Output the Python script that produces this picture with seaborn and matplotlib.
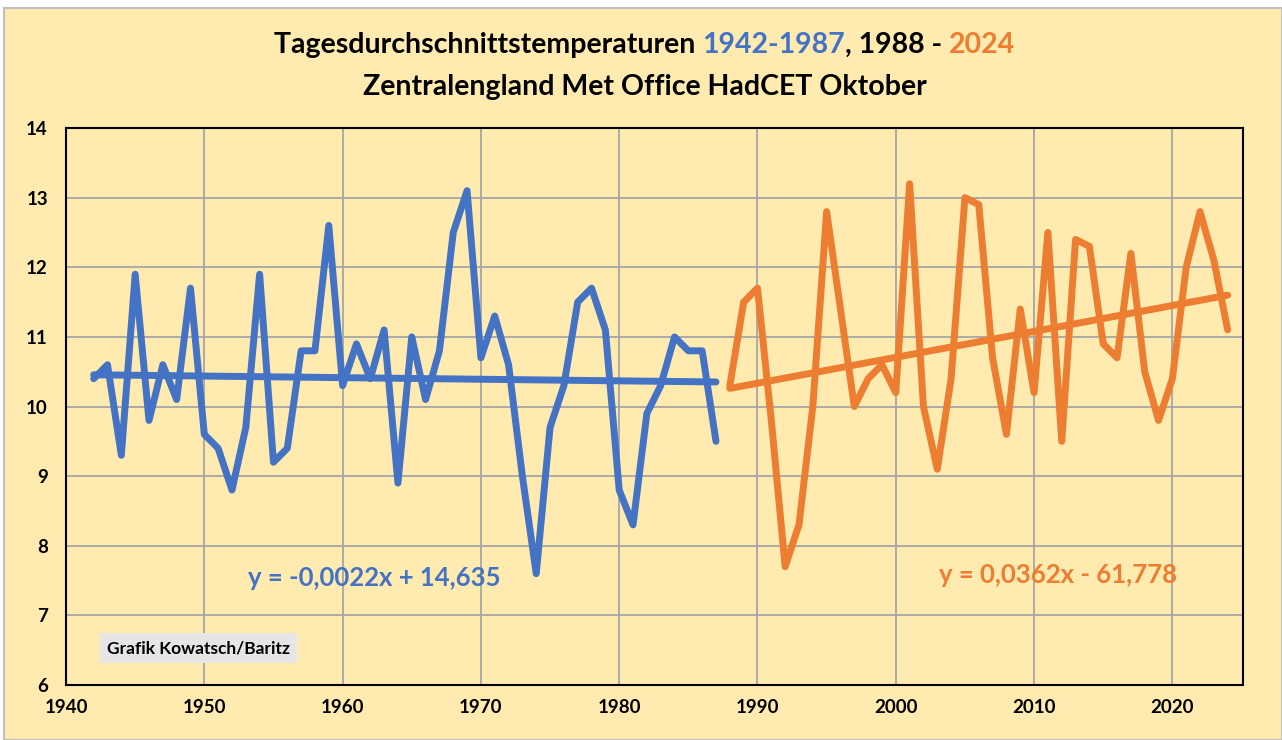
import pandas as pd
import seaborn as sns
import matplotlib.pyplot as plt
from matplotlib.offsetbox import TextArea, HPacker, AnnotationBbox
from matplotlib.patches import Rectangle

# --------------------------------------------------
# Data (HadCET October)
# --------------------------------------------------

blue_years = list(range(1942, 1988))
blue_temps = [
    10.4, 10.6, 9.3, 11.9, 9.8, 10.6, 10.1, 11.7, 9.6, 9.4,
    8.8, 9.7, 11.9, 9.2, 9.4, 10.8, 10.8, 12.6, 10.3, 10.9,
    10.4, 11.1, 8.9, 11.0, 10.1, 10.8, 12.5, 13.1, 10.7, 11.3,
    10.6, 9.0, 7.6, 9.7, 10.3, 11.5, 11.7, 11.1, 8.8, 8.3,
    9.9, 10.3, 11.0, 10.8, 10.8, 9.5,
]

orange_years = list(range(1988, 2025))
orange_temps = [
    10.3, 11.5, 11.7, 9.8, 7.7, 8.3, 10.0, 12.8, 11.4, 10.0,
    10.4, 10.6, 10.2, 13.2, 10.0, 9.1, 10.4, 13.0, 12.9, 10.7,
    9.6, 11.4, 10.2, 12.5, 9.5, 12.4, 12.3, 10.9, 10.7, 12.2,
    10.5, 9.8, 10.4, 12.0, 12.8, 12.1, 11.1,
]

x_ticks = list(range(1940, 2021, 10))
y_ticks = list(range(6, 15))

blue_eq = "y = -0,0022x + 14,635"
orange_eq = "y = 0,0362x - 61,778"

BG = "#FFEBB0"
BLUE = "#4472C4"
ORANGE = "#ED7D31"
GRID = "#A6A6A6"

# --------------------------------------------------
# Style
# --------------------------------------------------

sns.set_theme(style="whitegrid")
plt.rcParams["font.family"] = ["Lato", "DejaVu Sans"]

df_blue = pd.DataFrame({"Jahr": blue_years, "Temp": blue_temps})
df_orange = pd.DataFrame({"Jahr": orange_years, "Temp": orange_temps})

fig = plt.figure(figsize=(12.82, 7.40), dpi=100)
fig.patch.set_facecolor("white")
fig.patches.append(
    Rectangle((0.003, 0.0), 0.997, 0.989, transform=fig.transFigure,
              facecolor=BG, edgecolor="#BFBFBF", lw=1.5, zorder=-1)
)

ax = fig.add_axes([0.0515, 0.0743, 0.918, 0.7527])
ax.set_facecolor(BG)

# --------------------------------------------------
# Series + trend lines
# --------------------------------------------------

line_style = dict(lw=5, solid_joinstyle="round", solid_capstyle="round")

sns.lineplot(data=df_blue, x="Jahr", y="Temp", color=BLUE, ax=ax, **line_style)
sns.lineplot(data=df_orange, x="Jahr", y="Temp", color=ORANGE, ax=ax, **line_style)

sns.regplot(data=df_blue, x="Jahr", y="Temp", scatter=False, ci=None,
            color=BLUE, line_kws=line_style, ax=ax)
sns.regplot(data=df_orange, x="Jahr", y="Temp", scatter=False, ci=None,
            color=ORANGE, line_kws=line_style, ax=ax)

# --------------------------------------------------
# Axes
# --------------------------------------------------

ax.set_xlim(1940, 2025.1)
ax.set_ylim(6, 14)
ax.set_xticks(x_ticks)
ax.set_yticks(y_ticks)
ax.set_xlabel("")
ax.set_ylabel("")
ax.grid(True, color=GRID, lw=1.3)
ax.tick_params(length=0, labelsize=13.5, labelcolor="black")
ax.tick_params(axis="x", pad=10)
ax.tick_params(axis="y", pad=13)
for lab in ax.get_xticklabels() + ax.get_yticklabels():
    lab.set_fontweight("bold")
for sp in ax.spines.values():
    sp.set_color("black")
    sp.set_linewidth(1.5)

# equations
ax.text(1962.3, 7.53, blue_eq, color=BLUE, fontsize=18.5, fontweight="bold",
        ha="center", va="center")
ax.text(2011.7, 7.58, orange_eq, color=ORANGE, fontsize=18.5, fontweight="bold",
        ha="center", va="center")

# credit box
ax.text(1949.6, 6.53, "Grafik Kowatsch/Baritz", color="black", fontsize=12.5,
        fontweight="bold", ha="center", va="center",
        bbox=dict(boxstyle="square,pad=0.4", facecolor="#E6E6E6", edgecolor="none"))

# --------------------------------------------------
# Title (multi-coloured first line)
# --------------------------------------------------

title_parts = [
    ("Tagesdurchschnittstemperaturen ", "black"),
    ("1942-1987", BLUE),
    (", 1988 - ", "black"),
    ("2024", ORANGE),
]
areas = [TextArea(t, textprops=dict(color=c, fontsize=20.5, fontweight="bold"))
         for t, c in title_parts]
packer = HPacker(children=areas, align="baseline", pad=0, sep=0)
fig.add_artist(AnnotationBbox(packer, (0.503, 0.939), xycoords="figure fraction",
                              frameon=False, box_alignment=(0.5, 0.5)))
fig.text(0.503, 0.882, "Zentralengland Met Office HadCET Oktober", color="black",
         fontsize=20.5, fontweight="bold", ha="center", va="center")

fig.savefig("out.png", dpi=100)
